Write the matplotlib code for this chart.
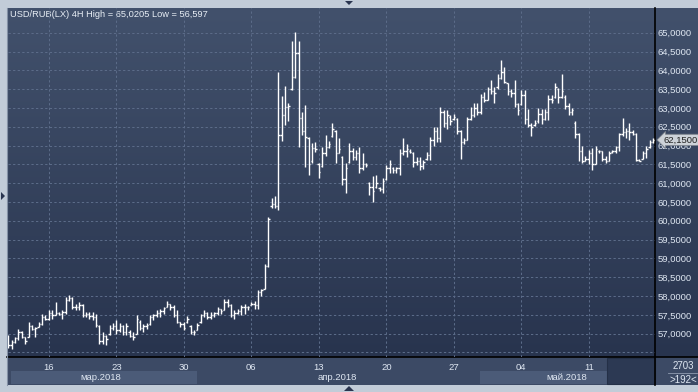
import numpy as np
import matplotlib
matplotlib.use("Agg")
import matplotlib.pyplot as plt
from matplotlib.collections import LineCollection
from matplotlib.patches import Rectangle, Polygon
from matplotlib.transforms import blended_transform_factory

plt.rcParams['font.family'] = ['Liberation Sans', 'DejaVu Sans']

# ---------------- data (4H bars, USD/RUB) ----------------
O = [56.90,56.70,56.78,56.88,57.05,56.90,56.92,57.20,57.12,57.18,
     57.25,57.45,57.40,57.55,57.50,57.55,57.52,57.58,57.90,57.95,
     57.72,57.70,57.75,57.50,57.52,57.48,57.45,57.20,56.80,56.95,
     56.98,57.15,57.20,57.10,57.20,57.05,57.05,56.95,57.00,57.30,
     57.15,57.20,57.25,57.45,57.50,57.55,57.60,57.72,57.80,57.70,
     57.50,57.30,57.25,57.30,57.20,57.05,57.10,57.30,57.50,57.55,
     57.45,57.50,57.55,57.65,57.62,57.85,57.75,57.50,57.55,57.60,
     57.70,57.70,57.75,57.80,57.75,58.10,58.20,58.80,60.40,60.45,
     60.40,62.28,62.81,63.02,63.50,63.81,64.45,62.73,62.40,62.20,
     61.60,61.93,61.50,61.45,61.80,61.95,62.25,62.40,61.80,61.70,
     61.10,61.55,61.85,61.70,61.80,61.40,61.50,61.00,60.90,60.90,
     60.88,60.85,61.10,61.40,61.40,61.35,61.40,61.80,61.85,61.85,
     61.80,61.55,61.60,61.45,61.65,61.75,62.15,62.40,62.20,62.90,
     62.60,62.75,62.70,62.70,62.40,62.10,62.15,62.70,62.80,63.00,
     62.90,63.30,63.20,63.50,63.45,63.55,63.80,63.95,63.65,63.45,
     63.40,63.10,63.10,63.35,62.70,62.55,62.55,62.65,62.85,62.70,
     62.90,63.25,63.30,63.50,63.30,63.30,63.05,62.90,62.60,62.30,
     61.85,61.60,61.65,61.80,61.50,61.85,61.85,61.65,61.60,61.82,
     61.85,61.95,62.30,62.35,62.40,62.35,62.32,61.62,61.65,61.80,
     61.95,62.10]
Hi = [56.96,56.82,56.91,57.13,57.06,56.91,57.31,57.22,57.18,57.31,
      57.53,57.49,57.62,57.62,57.84,57.58,57.62,57.97,58.02,57.97,
      57.80,57.84,57.80,57.58,57.58,57.58,57.53,57.22,57.04,56.96,
      57.22,57.27,57.35,57.27,57.22,57.27,57.09,57.04,57.49,57.35,
      57.25,57.27,57.49,57.53,57.62,57.66,57.71,57.87,57.80,57.75,
      57.62,57.31,57.31,57.47,57.22,57.09,57.27,57.53,57.62,57.58,
      57.58,57.58,57.71,57.66,57.93,57.93,57.80,57.62,57.66,57.75,
      57.80,57.73,57.84,57.88,58.15,58.19,58.86,60.10,60.60,60.65,
      63.96,63.32,63.58,63.12,64.78,65.0205,64.78,62.90,63.08,62.24,
      62.06,62.10,61.53,61.97,62.28,62.11,62.59,62.42,62.19,61.71,
      61.53,62.06,61.93,61.88,61.97,61.80,61.53,61.04,61.18,61.22,
      60.91,61.13,61.49,61.62,61.44,61.44,61.90,62.19,62.05,61.92,
      61.83,61.70,61.70,61.61,61.83,62.23,62.50,62.50,63.03,62.94,
      62.94,62.80,62.85,62.72,62.41,62.19,62.76,63.03,63.12,63.12,
      63.38,63.42,63.56,63.75,63.56,63.91,64.28,64.09,63.65,63.51,
      63.73,63.12,63.47,63.47,62.98,62.60,62.69,63.00,62.96,62.96,
      63.35,63.35,63.66,63.53,63.90,63.35,63.13,63.00,62.65,62.34,
      61.98,61.72,61.89,61.94,61.98,61.89,61.85,61.72,61.85,61.89,
      61.98,62.34,62.73,62.47,62.60,62.42,62.34,61.63,61.85,61.98,
      62.16,62.20]
Lo = [56.62,56.597,56.76,56.82,56.88,56.73,56.91,57.09,56.91,57.18,
      57.22,57.35,57.35,57.40,57.49,57.49,57.40,57.53,57.88,57.66,
      57.62,57.62,57.44,57.44,57.40,57.35,57.18,56.73,56.73,56.69,
      56.96,57.09,57.00,57.04,56.96,56.96,56.91,56.82,57.00,57.09,
      57.04,57.13,57.22,57.35,57.44,57.44,57.53,57.71,57.64,57.44,
      57.27,57.18,57.09,57.27,57.00,56.96,57.09,57.27,57.44,57.40,
      57.40,57.44,57.49,57.53,57.62,57.71,57.44,57.40,57.53,57.49,
      57.53,57.62,57.75,57.66,57.66,57.99,58.19,58.77,60.34,60.35,
      60.29,62.11,62.55,62.64,63.48,63.79,61.97,62.28,61.44,61.22,
      61.53,61.84,61.13,61.44,61.71,61.93,62.24,61.53,61.80,60.96,
      60.73,61.53,61.62,61.62,61.27,61.35,61.44,60.69,60.51,60.87,
      60.78,60.73,61.09,61.27,61.27,61.27,61.21,61.74,61.70,61.79,
      61.43,61.48,61.35,61.39,61.61,61.61,62.00,62.10,62.10,62.50,
      62.45,62.54,62.67,62.32,61.65,62.05,62.14,62.67,62.76,62.80,
      62.85,63.16,63.20,63.38,63.12,63.51,63.78,63.65,63.34,63.29,
      63.03,62.81,63.07,62.58,62.50,62.25,62.51,62.60,62.56,62.69,
      62.69,63.13,63.27,63.13,63.27,62.96,62.82,62.82,62.20,61.58,
      61.54,61.58,61.50,61.36,61.50,61.81,61.58,61.54,61.58,61.81,
      61.81,61.85,62.25,62.20,62.16,62.29,61.58,61.58,61.63,61.67,
      61.94,62.07]
C = [56.70,56.78,56.88,57.05,56.92,56.80,57.20,57.12,57.15,57.25,
     57.45,57.40,57.55,57.50,57.55,57.52,57.58,57.90,57.95,57.72,
     57.70,57.75,57.50,57.52,57.48,57.45,57.22,56.80,56.95,56.85,
     57.15,57.20,57.10,57.20,57.05,57.20,56.95,56.90,57.40,57.15,
     57.20,57.22,57.45,57.50,57.55,57.60,57.68,57.80,57.70,57.50,
     57.30,57.25,57.15,57.40,57.05,57.05,57.22,57.50,57.55,57.45,
     57.50,57.55,57.65,57.60,57.85,57.75,57.50,57.55,57.60,57.70,
     57.72,57.70,57.80,57.75,58.10,58.15,58.80,60.05,60.45,60.40,
     62.28,62.81,63.02,63.04,63.81,64.45,62.73,62.40,62.24,61.50,
     61.93,61.90,61.30,61.80,61.95,62.05,62.45,61.80,61.90,61.10,
     61.40,61.85,61.70,61.80,61.40,61.50,61.48,60.90,60.80,61.00,
     60.85,61.05,61.40,61.50,61.35,61.40,61.80,61.85,61.90,61.82,
     61.55,61.60,61.45,61.55,61.75,62.15,62.40,62.20,62.90,62.60,
     62.80,62.65,62.75,62.40,62.10,62.15,62.70,62.80,63.00,62.90,
     63.30,63.20,63.50,63.45,63.40,63.80,63.95,63.70,63.45,63.40,
     63.10,62.95,63.35,62.70,62.55,62.50,62.60,62.85,62.70,62.90,
     63.25,63.20,63.55,63.30,63.45,63.05,62.90,62.95,62.30,61.85,
     61.60,61.65,61.80,61.50,61.90,61.85,61.65,61.60,61.80,61.85,
     61.95,62.30,62.35,62.40,62.35,62.32,61.62,61.60,61.80,61.90,
     62.10,62.15]

week_labels = ['16', '23', '30', '06', '13', '20', '27', '04', '11']
week_bars = [12, 32, 52, 72, 92, 112, 132, 152, 172]
month_labels = ['мар.2018', 'апр.2018', 'май.2018']
month_start = [0, 56, 140]
price_ticks = [57.0, 57.5, 58.0, 58.5, 59.0, 59.5, 60.0, 60.5, 61.0,
               61.5, 62.0, 62.5, 63.0, 63.5, 64.0, 64.5, 65.0]
title = "USD/RUB(LX) 4H High = 65,0205 Low = 56,597"
last_price = C[-1]

# ---------------- figure & chrome ----------------
W, H = 698, 392
fig = plt.figure(figsize=(W / 100, H / 100), dpi=100)
fig.patch.set_facecolor('#c2ccd8')

bg = fig.add_axes([0, 0, 1, 1])
bg.set_xlim(0, W)
bg.set_ylim(H, 0)
bg.axis('off')

top_c = np.array([66, 81, 108]) / 255
bot_c = np.array([40, 52, 78]) / 255
t = np.linspace(0, 1, 256)[:, None, None]
grad = top_c * (1 - t) + bot_c * t
bg.imshow(grad, extent=(7, W, 357, 8), aspect='auto', zorder=0,
          interpolation='bilinear')
# bottom axis strip
bg.add_patch(Rectangle((7, 357), W - 7, 28, fc='#3c4a65', ec='none', zorder=1))
bg.add_patch(Rectangle((11, 371), 186, 13, fc='#4b5b78', ec='none', zorder=1.5))
bg.add_patch(Rectangle((480, 371), 127, 13, fc='#4b5b78', ec='none', zorder=1.5))
bg.add_patch(Rectangle((607, 358), 48, 26, fc='#2c3953', ec='#243047', lw=0.8, zorder=1.6))
# frame lines
bg.plot([7, W], [357, 357], color='black', lw=1.2, zorder=3)
bg.plot([655, 655], [8, 385], color='black', lw=1.2, zorder=3)
bg.plot([7, 7], [8, 385], color='#8592a6', lw=0.8, zorder=3)
# small triangles on frame
tri_c = '#2a3550'
bg.add_patch(Polygon([[345, 1], [353, 1], [349, 5]], closed=True, fc=tri_c, ec='none', zorder=4))
bg.add_patch(Polygon([[344, 391], [354, 391], [349, 386]], closed=True, fc=tri_c, ec='none', zorder=4))
bg.add_patch(Polygon([[1, 192], [1, 200], [5, 196]], closed=True, fc=tri_c, ec='none', zorder=4))
# bottom-right counter box
bg.text(683, 366, '2703', color='#dfe7f2', fontsize=7, ha='center', va='center', zorder=5)
bg.plot([668, 697], [373, 373], color='#8f9bb0', lw=0.6, zorder=5)
bg.text(683, 380, '>192<', color='#dfe7f2', fontsize=7, ha='center', va='center', zorder=5)
# title
bg.text(10, 14, title, color='#e8eef5', fontsize=6.7, ha='left', va='center', zorder=5)

# ---------------- main chart axes ----------------
ax = fig.add_axes([8 / W, (H - 357) / H, 647 / W, 349 / H])
ax.patch.set_alpha(0)
for s in ax.spines.values():
    s.set_visible(False)
ax.set_xlim(-0.09, 191.6)
ax.set_ylim(56.379, 65.657)

ax.yaxis.tick_right()
ax.set_yticks(price_ticks)
ax.set_yticklabels([f"{v:.4f}".replace('.', ',') for v in price_ticks])
ax.set_xticks(week_bars)
ax.set_xticklabels(week_labels)
ax.tick_params(axis='y', length=0, pad=2, labelsize=6.8, labelcolor='#dfe7f2')
ax.tick_params(axis='x', length=0, pad=4, labelsize=6.8, labelcolor='#dfe7f2')

grid_kw = dict(color='#5b6b88', lw=0.75, ls=(0, (2.2, 2.2)))
ax.grid(True, **grid_kw)
ax.axhline(56.5, **grid_kw)
ax.set_axisbelow(True)

# OHLC bars
n = len(C)
xs = np.arange(n)
tw = 0.42
segs = []
for i in range(n):
    segs.append([(xs[i], Lo[i]), (xs[i], Hi[i])])
    segs.append([(xs[i] - tw, O[i]), (xs[i], O[i])])
    segs.append([(xs[i], C[i]), (xs[i] + tw, C[i])])
ax.add_collection(LineCollection(segs, colors='white', linewidths=1.0, zorder=3))

# month labels
tr = blended_transform_factory(ax.transData, ax.transAxes)
bounds = month_start + [n]
for k, lab in enumerate(month_labels):
    cx = (bounds[k] + bounds[k + 1] - 1) / 2
    ax.text(cx, -0.060, lab, transform=tr, color='#dfe7f2', fontsize=6.8,
            ha='center', va='center', clip_on=False)

# last price marker (covers the 62,0000 label partly, as in the original)
ty = blended_transform_factory(ax.transAxes, ax.transData)
ax.text(1.0 + 8 / 647, last_price, f"{last_price:.4f}".replace('.', ','),
        transform=ty, fontsize=6.8, color='#202020', ha='left', va='center',
        bbox=dict(boxstyle='larrow,pad=0.12', fc='#cdd2d8', ec='#7d838c', lw=0.6),
        clip_on=False, zorder=6)

fig.savefig('out.png', dpi=100, facecolor=fig.get_facecolor())
